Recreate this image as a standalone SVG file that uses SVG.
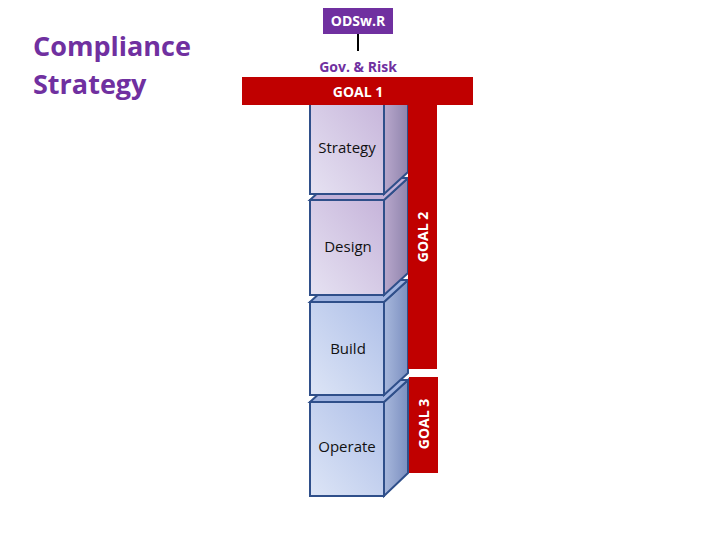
<svg xmlns="http://www.w3.org/2000/svg" width="720" height="540" viewBox="0 0 720 540">
<style>
text{font-family:"Open Sans","Liberation Sans",sans-serif}
.front{stroke:#2f4f8a;stroke-width:2}
.side{stroke:#2f4f8a;stroke-width:2}
.lbl{font-size:15px;fill:#111;text-anchor:middle}
.goal{fill:#c00000}
.gt{font-size:14px;font-weight:bold;fill:#fff;text-anchor:middle}
</style>
<defs>
<linearGradient id="gp" x1="0" y1="1" x2="1" y2="0"><stop offset="0" stop-color="#e6e2f2"/><stop offset="1" stop-color="#c6b4da"/></linearGradient>
<linearGradient id="gb" x1="0" y1="1" x2="1" y2="0"><stop offset="0" stop-color="#dde5f6"/><stop offset="1" stop-color="#aebfe8"/></linearGradient>
<linearGradient id="sp" x1="0" y1="0" x2="1" y2="0"><stop offset="0" stop-color="#b9a8cc"/><stop offset="1" stop-color="#8f84ad"/></linearGradient>
<linearGradient id="sb" x1="0" y1="0" x2="1" y2="0"><stop offset="0" stop-color="#a8b8dc"/><stop offset="1" stop-color="#7b8fc0"/></linearGradient>
</defs>
<g id="title"><text x="33" y="56" font-size="27" font-weight="bold" fill="#7030a0">Compliance</text><text x="33" y="94" font-size="27" font-weight="bold" fill="#7030a0">Strategy</text></g>
<g id="operate"><polygon class="side" fill="url(#sb)" points="384,402 408,380 408,473 384,496"/><polygon class="front" fill="#9fb3e0" points="310,402 334,380 408,380 384,402"/><rect class="front" fill="url(#gb)" x="310" y="402" width="74" height="94"/><text class="lbl" x="347" y="452">Operate</text></g>
<g id="build"><polygon class="side" fill="url(#sb)" points="384,302 408,280 408,373 384,395"/><polygon class="front" fill="#9fb3e0" points="310,302 334,280 408,280 384,302"/><rect class="front" fill="url(#gb)" x="310" y="302" width="74" height="93"/><text class="lbl" x="348" y="354">Build</text></g>
<g id="design"><polygon class="side" fill="url(#sp)" points="384,200 408,178 408,273 384,295"/><polygon class="front" fill="#c0b0d8" points="310,200 334,178 408,178 384,200"/><rect class="front" fill="url(#gp)" x="310" y="200" width="74" height="95"/><text class="lbl" x="348" y="252">Design</text></g>
<g id="strategy"><polygon class="side" fill="url(#sp)" points="384,100 408,100 408,172 384,194"/><rect class="front" fill="url(#gp)" x="310" y="96" width="74" height="98"/><text class="lbl" x="347" y="153">Strategy</text></g>
<g id="goal2"><rect class="goal" x="408" y="100" width="29" height="269"/><text class="gt" transform="translate(428,237) rotate(-90)">GOAL 2</text></g>
<g id="goal3"><rect class="goal" x="409" y="377" width="29" height="96"/><text class="gt" transform="translate(429,424) rotate(-90)">GOAL 3</text></g>
<g id="goal1"><rect class="goal" x="242" y="77" width="231" height="28"/><text class="gt" x="358" y="97">GOAL 1</text></g>
<g id="odswr"><rect x="323" y="8" width="70" height="26" fill="#7030a0"/><text x="358" y="26" font-size="14" font-weight="bold" fill="#fff" text-anchor="middle">ODSw.R</text></g>
<g id="connectors"><line x1="358" y1="34" x2="358" y2="51" stroke="#000" stroke-width="2"/></g>
<g id="gov"><text x="358" y="72" font-size="14" font-weight="bold" fill="#7030a0" text-anchor="middle">Gov. &amp; Risk</text></g>
</svg>
